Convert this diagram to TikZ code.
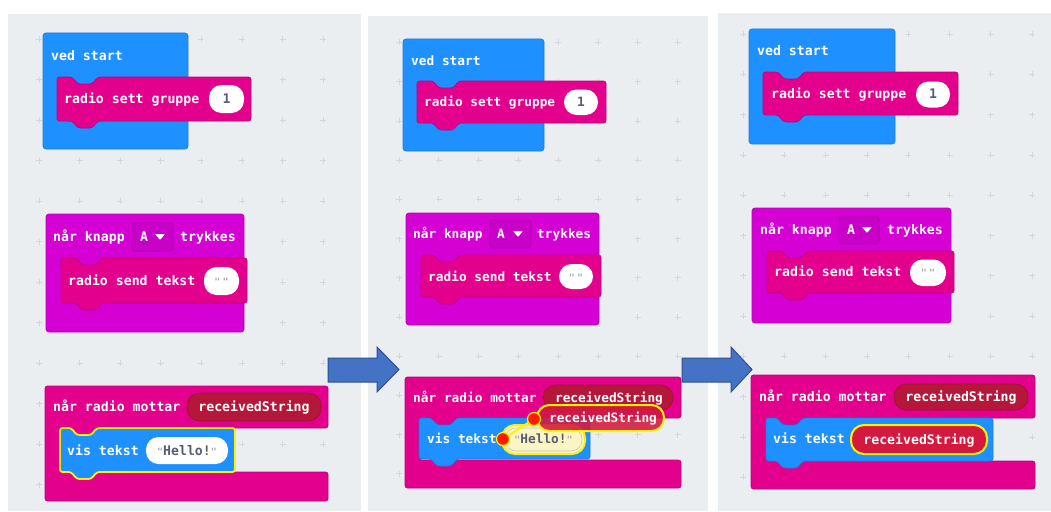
\documentclass[tikz,border=0pt]{standalone}
\usepackage{fontspec}
\newfontfamily\blkfont{DejaVu Sans Mono}
\definecolor{bgc}{HTML}{EBEEF0}
\definecolor{plusc}{HTML}{D3D8DC}
\definecolor{blueblk}{HTML}{1E90FF}
\definecolor{bluebd}{HTML}{1A7DE0}
\definecolor{pinkblk}{HTML}{E3008C}
\definecolor{pinkbd}{HTML}{C2007A}
\definecolor{purpleblk}{HTML}{D400D4}
\definecolor{purplebd}{HTML}{B300B3}
\definecolor{purpledd}{HTML}{C800C8}
\definecolor{varred}{HTML}{B5173A}
\definecolor{varbd}{HTML}{9A1230}
\definecolor{pillred}{HTML}{D4193F}
\definecolor{selyellow}{HTML}{FFF200}
\definecolor{strtext}{HTML}{575E75}
\definecolor{qgray}{HTML}{A8A8B0}
\definecolor{hellofill}{HTML}{FBF5C4}
\definecolor{arrowblue}{HTML}{4472C4}
\definecolor{arrowbd}{HTML}{2F528F}
\definecolor{dotred}{HTML}{FF1A00}
\newcommand\stmtblk[6]{%
  \filldraw[#6,rounded corners=2.5pt] (#1,#2) -- (#5,#2) -- ++(6,7) -- ++(14,0) -- ++(6,-7) -- (#3,#2) -- (#3,#4) -- ({#5+26},#4) -- ++(-6,7) -- ++(-14,0) -- ++(-6,-7) -- (#1,#4) -- cycle;}
\newcommand\cblk[9]{%
  \filldraw[#9,rounded corners=2.5pt] (#1,#2) -- (#3,#2) -- (#3,#6) -- ({#8+26},#6) -- ++(-6,7) -- ++(-14,0) -- ++(-6,-7) -- (#5,#6) -- (#5,#7) -- (#3,#7) -- (#3,#4) -- (#1,#4) -- cycle;}
\newcommand\qm{{\color{qgray}\fontsize{10}{10}\selectfont"}}
\begin{document}
\begin{tikzpicture}[x=1pt,y=-1pt,
  blueS/.style={fill=blueblk,draw=bluebd,line width=0.7pt},
  pinkS/.style={fill=pinkblk,draw=pinkbd,line width=0.7pt},
  purpleS/.style={fill=purpleblk,draw=purplebd,line width=0.7pt},
  selS/.style={fill=blueblk,draw=selyellow,line width=1.8pt},
  whiteP/.style={fill=white,draw=none,rounded corners=12.5pt},
  varP/.style={fill=varred,draw=varbd,line width=0.6pt,rounded corners=12.5pt},
  ddS/.style={fill=purpledd,draw=purplebd,line width=0.8pt,rounded corners=3pt},
  lbl/.style={font=\blkfont\bfseries\fontsize{13.2}{15}\selectfont,text=white,inner sep=0pt,anchor=base west},
  lbls/.style={lbl,font=\blkfont\bfseries\fontsize{12.8}{15}\selectfont},
  lblc/.style={lbl,anchor=base},
  lblsc/.style={lbls,anchor=base},
  strc/.style={lblc,text=strtext},
  strsc/.style={lblsc,text=strtext},
  arrowS/.style={fill=arrowblue,draw=arrowbd,line width=1pt},
  plusS/.style={draw=plusc,line width=0.8pt},
  dotS/.style={circle,fill=dotred,draw=selyellow,line width=1.2pt,minimum size=13pt,inner sep=0pt}]
\useasboundingbox (0,0) rectangle (1051,511);
\fill[white] (0,0) rectangle (1051,511);
% panels
\fill[bgc] (8,14) rectangle (361,511);
\fill[bgc] (368,16) rectangle (708,511);
\fill[bgc] (718,13) rectangle (1051,511);
% grid pluses
\foreach \i in {0,...,7} \foreach \j in {0,...,11}
  \draw[plusS] ({39+40.6*\i-3},{39+40.5*\j}) -- ++(6,0) ++(-3,-3) -- ++(0,6);
\foreach \i in {0,...,7} \foreach \j in {0,...,11}
  \draw[plusS] ({399+39.8*\i-3},{42.5+39.2*\j}) -- ++(6,0) ++(-3,-3) -- ++(0,6);
\foreach \i in {0,...,7} \foreach \j in {0,...,11}
  \draw[plusS] ({743+41.3*\i-3},{34+40.3*\j}) -- ++(6,0) ++(-3,-3) -- ++(0,6);
% arrows
\filldraw[arrowS] (328,358) -- (377,358) -- (377,347) -- (399,369.5) -- (377,392) -- (377,382) -- (328,382) -- cycle;
\filldraw[arrowS] (682,358) -- (731,358) -- (731,347) -- (752,369.5) -- (731,392) -- (731,382) -- (682,382) -- cycle;

%================ PANEL 1
\filldraw[blueS,rounded corners=3pt] (43,33) rectangle (188,149);
\stmtblk{57}{77}{251}{121}{72}{pinkS}
\node[lbl] (p1start) at (51,60.6) {ved start};
\node[lbl] (p1group) at (64,103.6) {radio sett gruppe};
\filldraw[whiteP] (209,85) rectangle (244,113);
\node[strc] (p1one) at (226.5,103.6) {1};

\filldraw[purpleS,rounded corners=3pt] (46,214) rectangle (244,332);
\stmtblk{61}{258}{247}{303}{76}{pinkS}
\node[lbl] (p1knapp) at (53,241.6) {når knapp};
\filldraw[ddS] (132,222) rectangle (173,251);
\node[lbl] (p1A) at (140,241.6) {A};
\fill[white,rounded corners=0.8pt] (155,234) -- (165,234) -- (160,240) -- cycle;
\node[lbl] (p1tryk) at (180,241.6) {trykkes};
\node[lbl] (p1send) at (68,285.6) {radio send tekst};
\filldraw[whiteP] (204,267) rectangle (239,295);
\node[lblc] (p1empty) at (221.5,285.6) {\qm\hspace{2pt}\qm};

\cblk{45}{386}{328}{501}{60}{428}{472}{71}{pinkS}
\node[lbl] (p1mottar) at (53,411.6) {når radio mottar};
\filldraw[varP] (187,393) rectangle (321,421);
\node[lblc] (p1var) at (254,411.6) {receivedString};
\stmtblk{60}{428}{235}{472}{71}{selS}
\node[lbl] (p1vis) at (67,455.6) {vis tekst};
\filldraw[whiteP] (146,437) rectangle (228,464);
\node[strc] (p1hello) at (187,455.6) {\qm Hello!\qm};

%================ PANEL 2
\filldraw[blueS,rounded corners=3pt] (403,39) rectangle (544,151);
\stmtblk{417}{81}{606}{123}{433}{pinkS}
\node[lbls] (p2start) at (411,65.6) {ved start};
\node[lbls] (p2group) at (424,106.6) {radio sett gruppe};
\filldraw[whiteP] (564,89.5) rectangle (598,115);
\node[strsc] (p2one) at (581,106.6) {1};

\filldraw[purpleS,rounded corners=3pt] (406,213) rectangle (599,325);
\stmtblk{421}{255}{601}{297}{434}{pinkS}
\node[lbls] (p2knapp) at (413,238.6) {når knapp};
\filldraw[ddS] (490,220) rectangle (531,248);
\node[lbls] (p2A) at (497,238.6) {A};
\fill[white,rounded corners=0.8pt] (513,231) -- (523,231) -- (518,237) -- cycle;
\node[lbls] (p2tryk) at (537,238.6) {trykkes};
\node[lbls] (p2send) at (428,281.6) {radio send tekst};
\filldraw[whiteP] (559,264) rectangle (593,289);
\node[lblsc] (p2empty) at (576,281.6) {\qm\hspace{2pt}\qm};

\cblk{405}{377}{681}{488}{419}{418}{460}{431}{pinkS}
\node[lbls] (p2mottar) at (413,402.6) {når radio mottar};
\filldraw[varP] (543,385) rectangle (673,410.5);
\node[lblsc] (p2var) at (609,402.6) {receivedString};
\stmtblk{419}{418}{590}{459}{431}{blueS}
\node[lbls] (p2vis) at (427,443.6) {vis tekst};
\filldraw[fill=hellofill,draw=selyellow,line width=2pt,rounded corners=13pt] (502,425) rectangle (585,454);
\draw[draw=qgray!70,line width=0.6pt,rounded corners=11pt] (505,428) rectangle (582,451);
\node[strsc] (p2hello) at (543.5,443.6) {\qm Hello!\qm};
\filldraw[fill=pillred,fill opacity=0.88,draw=selyellow,line width=2pt,rounded corners=12.5pt] (537,405) rectangle (664,431);
\node[lblsc] (p2drag) at (603,422.6) {receivedString};
\node[dotS] (p2dotA) at (534,419) {};
\node[dotS] (p2dotB) at (503,439) {};
\draw[selyellow,line width=2pt] (p2dotA) -- (p2dotB);

%================ PANEL 3
\filldraw[blueS,rounded corners=3pt] (749,29) rectangle (895,144);
\stmtblk{763}{72}{958}{115}{778}{pinkS}
\node[lbl] (p3start) at (757,55.6) {ved start};
\node[lbl] (p3group) at (771,98.6) {radio sett gruppe};
\filldraw[whiteP] (916,81.5) rectangle (950,107.5);
\node[strc] (p3one) at (933,98.6) {1};

\filldraw[purpleS,rounded corners=3pt] (752,208) rectangle (951,323);
\stmtblk{767}{251}{954}{293}{782}{pinkS}
\node[lbl] (p3knapp) at (760,234.6) {når knapp};
\filldraw[ddS] (839,216) rectangle (879,244);
\node[lbl] (p3A) at (847,234.6) {A};
\fill[white,rounded corners=0.8pt] (862,227) -- (872,227) -- (867,233) -- cycle;
\node[lbl] (p3tryk) at (887,234.6) {trykkes};
\node[lbl] (p3send) at (774,276.6) {radio send tekst};
\filldraw[whiteP] (910,259.5) rectangle (946,286);
\node[lblc] (p3empty) at (928,276.6) {\qm\hspace{2pt}\qm};

\cblk{751}{375}{1035}{489}{766}{418}{461}{777}{pinkS}
\node[lbl] (p3mottar) at (759,401.6) {når radio mottar};
\filldraw[varP] (894,384) rectangle (1028,410);
\node[lblc] (p3var) at (961,401.6) {receivedString};
\stmtblk{766}{418}{993}{461}{777}{blueS}
\node[lbl] (p3vis) at (773,443.6) {vis tekst};
\filldraw[fill=pillred,draw=selyellow,line width=2pt,rounded corners=13pt] (851,425) rectangle (987,454);
\node[lblc] (p3var2) at (919,444.1) {receivedString};
\end{tikzpicture}
\end{document}
